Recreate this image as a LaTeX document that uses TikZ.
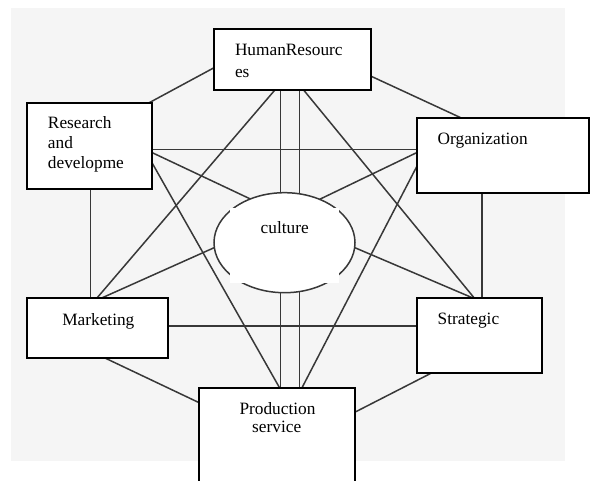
\documentclass[tikz,border=0pt]{standalone}
\usepackage{fontspec}
\setmainfont{Liberation Serif}
\usetikzlibrary{shapes.geometric,calc}
\pgfdeclarelayer{background}
\pgfsetlayers{background,main}
\definecolor{bggray}{HTML}{F5F5F5}
\definecolor{linegray}{HTML}{383838}
\begin{document}
\begin{tikzpicture}[x=1pt,y=-1pt,
  box/.style={draw=black,line width=2pt,fill=white,rectangle,inner sep=0pt,outer sep=0pt},
  conn/.style={draw=linegray,line width=1.5pt},
  lbl/.style={inner sep=0pt,outer sep=0pt,font=\fontsize{17.3pt}{20pt}\selectfont,anchor=base west},
  lblc/.style={lbl,anchor=base}]
\useasboundingbox (0,0) rectangle (590,481);
\begin{pgfonlayer}{background}
\fill[white] (0,0) rectangle (590,481);
\fill[bggray] (11,8) rectangle (565,461);
\end{pgfonlayer}
% boxes
\node[box,minimum width=157pt,minimum height=61pt] (hr) at (292.5,59.5) {};
\node[box,minimum width=125pt,minimum height=86pt] (rd) at (89.5,146) {};
\node[box,minimum width=172pt,minimum height=75pt] (org) at (503,155.5) {};
\node[box,minimum width=141pt,minimum height=60pt] (mk) at (97.5,328) {};
\node[box,minimum width=125pt,minimum height=75pt] (st) at (479.5,335.5) {};
\node[box,minimum width=156pt,minimum height=102pt] (pr) at (277,439) {};
% centre
\node[ellipse,draw=linegray,line width=1.5pt,fill=white,minimum width=141pt,minimum height=100pt,inner sep=0pt,outer sep=0pt] (culture) at (284.5,242.7) {};
\node[fill=white,minimum width=109pt,minimum height=75pt,inner sep=0pt] (cover) at (284.5,245.5) {};
% connectors
\begin{pgfonlayer}{background}
\draw[conn] (hr.186.2) -- (rd.36.8);
\draw[conn] (hr.348.8) -- (org.138.9);
\coordinate (xr) at (90.5,0);
\draw[conn] (rd.south -| xr) -- (mk.north -| xr);
\coordinate (xv) at (482,0);
\draw[conn] (org.south -| xv) -- (st.north -| xv);
\draw[conn] (mk.284.6) -- (pr.155.4);
\draw[conn] (st.218.3) -- (pr.19.3);
\coordinate (yh1) at (0,149.5);
\draw[conn] (rd.east |- yh1) -- (org.west |- yh1);
\coordinate (yh2) at (0,326);
\draw[conn] (mk.east |- yh2) -- (st.west |- yh2);
\coordinate (xa) at (280.5,0);
\coordinate (xb) at (299.5,0);
\draw[conn] (hr.south -| xa) -- (pr.north -| xa);
\draw[conn] (hr.south -| xb) -- (pr.north -| xb);
\draw[conn] (hr.240.2) -- (mk.91);
\draw[conn] (hr.290.7) -- (st.98.3);
\draw[conn] (rd.345.9) -- (pr.87.8);
\draw[conn] (org.187.4) -- (pr.64.8);
\draw[conn] (rd.354.8) -- (culture.128);
\draw[conn] (org.178.5) -- (culture.51.5);
\draw[conn] (mk.82.2) -- (culture.184);
\draw[conn] (st.100.9) -- (culture.356.7);
\end{pgfonlayer}
% texts
\node[lbl] (hrt1) at (235,56) {HumanResourc};
\node[lbl] (hrt2) at (235,78) {es};
\node[lbl] (rdt1) at (48,128.3) {Research};
\node[lbl] (rdt2) at (48,149) {and};
\node[lbl] (rdt3) at (48,169) {developme};
\node[lbl] (orgt) at (437.7,144.3) {Organization};
\node[lblc] (cut) at (284.7,234) {culture};
\node[lbl] (mkt) at (62.3,325.7) {Marketing};
\node[lbl] (stt) at (437.7,325) {Strategic};
\node[lblc] (prt1) at (277.5,415) {Production};
\node[lblc] (prt2) at (276.7,433) {service};
\end{tikzpicture}
\end{document}
